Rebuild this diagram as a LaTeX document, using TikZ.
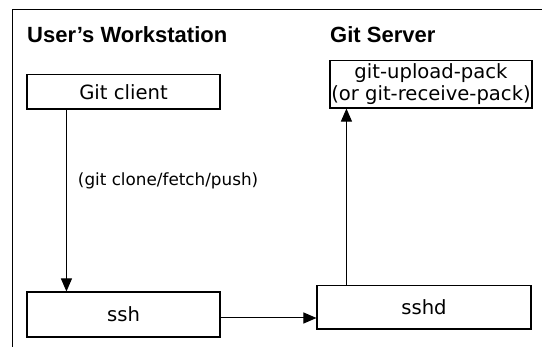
\documentclass[tikz,border=0pt]{standalone}
\usepackage{fontspec}
\setmainfont{DejaVu Sans}
\newfontfamily\headfont{Liberation Sans}
\usetikzlibrary{positioning,arrows.meta,calc}
\tikzset{
  box/.style={draw=black, line width=1.1pt, inner sep=0pt, align=center,
    font=\fontsize{19.6}{22.5}\selectfont},
  heading/.style={anchor=base west, inner sep=0pt,
    font=\headfont\bfseries\fontsize{22}{26}\selectfont},
  flow/.style={line width=1pt, -{Triangle[length=13pt,width=11pt]}},
  frame/.style={line width=1.3pt}
}

\begin{document}
\begin{tikzpicture}[x=1pt, y=-1pt]
    \useasboundingbox (0,0) rectangle (542,347);
    % outer frame (top and left only)
    \draw[frame] (12.5,347) -- (12.5,9.5) -- (542,9.5);
    % headings
    \node[heading] (ws) at (27,43) {User’s Workstation};
    \node[heading] (srv) at (330,43) {Git Server};
    % boxes
    \node[box, minimum width=193pt, minimum height=34.5pt] (client) at (123.5,91.75) {Git client};
    \node[box, minimum width=202pt, minimum height=47.5pt] (pack) at (431,84.25) {git-upload-pack\\(or git-receive-pack)};
    \node[box, minimum width=193pt, minimum height=45pt] (ssh) at (123.5,314.5) {ssh};
    \node[box, minimum width=214pt, minimum height=43.5pt] (sshd) at (424,307.25) {sshd};
    % connector ends
    \coordinate (c1) at ($(client.south west)+(40,0)$);
    \coordinate (c2) at ($(ssh.east)+(0,3.5)$);
    \coordinate (c3) at ($(sshd.north west)+(30,0)$);
    % connectors
    \draw[flow] (c1) -- (c1 |- ssh.north)
      node[pos=0.39, right=11pt, inner sep=0pt, font=\fontsize{16.8}{20}\selectfont] (cmd) {(git clone/fetch/push)};
    \draw[flow] (c2) -- (c2 -| sshd.west);
    \draw[flow] (c3) -- (c3 |- pack.south);
\end{tikzpicture}
\end{document}
